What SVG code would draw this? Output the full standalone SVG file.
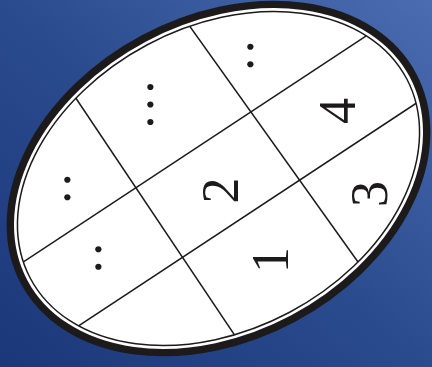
<svg xmlns="http://www.w3.org/2000/svg" width="432" height="367" viewBox="0 0 432 367">
<defs>
<linearGradient id="bg" x1="0" y1="1" x2="1" y2="0">
<stop offset="0" stop-color="#1a3779"/>
<stop offset="0.5" stop-color="#2b4b8f"/>
<stop offset="1" stop-color="#4b6cb0"/>
</linearGradient>
<clipPath id="inner"><ellipse cx="0" cy="0" rx="213" ry="151.5" transform="translate(218.5 178.5) rotate(-28)"/></clipPath>
</defs>
<style>
.grid line{stroke:#1c1a1b;stroke-width:1.5;fill:none}
.num{font-family:"Liberation Serif","Times New Roman",serif;font-size:52px;fill:#1c1a1b;text-anchor:middle}
.dots{font-family:"Liberation Serif","Times New Roman",serif;font-size:52px;fill:#1c1a1b;letter-spacing:4.5px}
</style>
<rect width="432" height="367" fill="url(#bg)"/>
<g id="oval" transform="translate(218.5 178.5) rotate(-28)">
<ellipse rx="220.2" ry="158.7" fill="#fff" stroke="#1c1a1b" stroke-width="7.4"/>
<ellipse rx="213" ry="151.5" fill="none" stroke="#1c1a1b" stroke-width="1.5"/>
</g>
<g id="connectors" class="grid" clip-path="url(#inner)">
<line x1="-10" y1="284" x2="407" y2="9"/>
<line x1="42" y1="350" x2="453" y2="79"/>
<line x1="55" y1="67" x2="258" y2="370"/>
<line x1="171" y1="0" x2="378" y2="290"/>
</g>
<g id="n1"><text class="num" transform="translate(270.5 260) rotate(-90)" x="0" y="17.6">1</text></g>
<g id="n2"><text class="num" transform="translate(220 190.5) rotate(-90)" x="0" y="17.6">2</text></g>
<g id="n3"><text class="num" transform="translate(369.5 194) rotate(-90)" x="0" y="17.6">3</text></g>
<g id="n4"><text class="num" transform="translate(337 111) rotate(-90)" x="0" y="17.6">4</text></g>
<g id="d1"><text class="dots" transform="translate(70.3 203.8) rotate(-90)">..</text></g>
<g id="d2"><text class="dots" transform="translate(153.3 128.5) rotate(-90)">...</text></g>
<g id="d3"><text class="dots" transform="translate(252.6 70.8) rotate(-90)">..</text></g>
<g id="d4"><text class="dots" transform="translate(101.3 273.2) rotate(-90)">..</text></g>
</svg>
